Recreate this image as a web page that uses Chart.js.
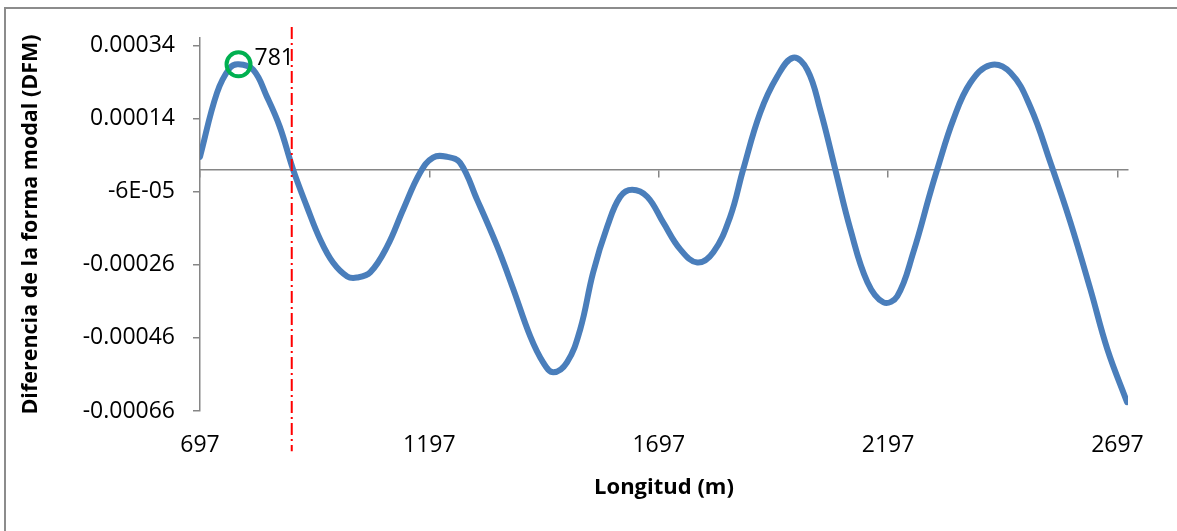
<!DOCTYPE html>
<html>
<head>
<meta charset="utf-8">
<script src="https://cdn.jsdelivr.net/npm/chart.js@4.4.1/dist/chart.umd.min.js"></script>
<style>
  html, body { margin: 0; padding: 0; background: #fff; overflow: hidden; }
  #frame { position: absolute; left: 4px; top: 7px; width: 2000px; height: 2000px;
           border-left: 2px solid #8c8c8c; border-top: 2px solid #8c8c8c; }
  #wrap { position: absolute; left: 0; top: 0; width: 1177px; height: 531px; }
</style>
</head>
<body>
<div id="frame"></div>
<div id="wrap"><canvas id="dfmChart" width="1177" height="531"></canvas></div>
<script>
// longitud (m) y diferencia de la forma modal
const longitud = [697, 734, 762, 781, 813, 843, 871, 900, 930, 959, 987, 1018, 1039, 1068, 1105, 1140,
  1177, 1205, 1236, 1264, 1301, 1345, 1380, 1417, 1445, 1467, 1497, 1526, 1554, 1585, 1613, 1639,
  1672, 1707, 1744, 1781, 1816, 1853, 1881, 1918, 1955, 1990, 2021, 2049, 2082, 2115, 2152, 2187,
  2217, 2252, 2289, 2304, 2339, 2376, 2420, 2464, 2507, 2551, 2594, 2638, 2675, 2718];
const dfm = [3.5e-5, 2.10e-4, 2.78e-4, 2.88e-4, 2.73e-4, 1.99e-4, 1.17e-4, 0, -1.01e-4, -1.91e-4, -2.54e-4, -2.92e-4, -2.95e-4, -2.81e-4, -2.10e-4, -1.09e-4,
  -0.08e-4, 0.33e-4, 0.35e-4, 0.19e-4, -0.82e-4, -2.10e-4, -3.27e-4, -4.56e-4, -5.27e-4, -5.54e-4, -5.27e-4, -4.36e-4, -2.81e-4, -1.55e-4, -0.74e-4, -0.55e-4,
  -0.74e-4, -1.45e-4, -2.18e-4, -2.54e-4, -2.26e-4, -1.28e-4, 0, 1.55e-4, 2.54e-4, 3.06e-4, 2.73e-4, 1.64e-4, 0, -1.64e-4, -3.08e-4, -3.63e-4,
  -3.46e-4, -2.26e-4, -0.63e-4, 0, 1.36e-4, 2.37e-4, 2.86e-4, 2.65e-4, 1.72e-4, 0.19e-4, -1.42e-4, -3.27e-4, -4.91e-4, -6.36e-4];

const xTicks = [697, 1197, 1697, 2197, 2697];
const xTickLabels = ['697', '1197', '1697', '2197', '2697'];
const yTicks = [-0.00066, -0.00046, -0.00026, -0.00006, 0.00014, 0.00034];
const yTickLabels = ['-0.00066', '-0.00046', '-0.00026', '-6E-05', '0.00014', '0.00034'];

// marcadores
const peakX = 781, peakY = 2.88e-4, peakLabel = '781';
const cutX = 897, cutTop = 0.00039, cutBottom = -0.00077;

const axisColor = '#868686';
const tickFont = { family: 'Open Sans', size: 23 };

const peakLabelPlugin = {
  id: 'peakLabel',
  afterDatasetsDraw(chart) {
    const ctx = chart.ctx;
    const px = chart.scales.x.getPixelForValue(peakX);
    const py = chart.scales.y.getPixelForValue(peakY);
    ctx.save();
    ctx.font = '23px "Open Sans"';
    ctx.fillStyle = '#000';
    ctx.textAlign = 'left';
    ctx.textBaseline = 'middle';
    ctx.fillText(peakLabel, px + 16, py - 6);
    ctx.restore();
  }
};

new Chart(document.getElementById('dfmChart'), {
  type: 'line',
  data: {
    datasets: [
      { // circulo verde
        data: [{ x: peakX, y: peakY }],
        showLine: false, pointRadius: 12, pointHoverRadius: 12, pointBorderWidth: 4,
        pointBorderColor: '#00b050', pointBackgroundColor: 'rgba(0,0,0,0)',
        xAxisID: 'x', yAxisID: 'y', order: 0
      },
      { // linea roja punto-raya
        data: [{ x: cutX, y: cutTop }, { x: cutX, y: cutBottom }],
        borderColor: '#ff0000', borderWidth: 2, borderDash: [12, 4, 2, 4],
        pointRadius: 0, clip: false, xAxisID: 'x', yAxisID: 'y', order: 1
      },
      {
        data: longitud.map((x, i) => ({ x: x, y: dfm[i] })),
        borderColor: '#4a7ebb', borderWidth: 6, pointRadius: 0, tension: 0.4,
        borderCapStyle: 'round', borderJoinStyle: 'round',
        xAxisID: 'x', yAxisID: 'y', order: 2
      }
    ]
  },
  options: {
    responsive: false, animation: false,
    layout: { padding: { top: 38, right: 49, left: 0, bottom: 0 } },
    plugins: { legend: { display: false }, tooltip: { enabled: false } },
    scales: {
      x: {
        type: 'linear', position: 'bottom', min: 697, max: 2720,
        afterBuildTicks: s => { s.ticks = xTicks.map(v => ({ value: v })); },
        afterFit: s => { s.height = 120; },
        border: { display: false },
        grid: { display: false, drawTicks: false },
        ticks: { color: '#000', font: tickFont, padding: 21, maxRotation: 0,
                 callback: (v, i) => xTickLabels[i] },
        title: { display: true, text: 'Longitud (m)', color: '#000',
                 font: { family: 'Open Sans', size: 22, weight: 'bold' },
                 padding: { top: 0, bottom: 30 } }
      },
      x0: {
        type: 'linear', position: { y: 0 }, min: 697, max: 2720,
        afterBuildTicks: s => { s.ticks = xTicks.map(v => ({ value: v })); },
        border: { display: true, color: axisColor, width: 1.5 },
        grid: { drawOnChartArea: false, drawTicks: true, tickLength: 7, color: axisColor, lineWidth: 1.5 },
        ticks: { display: false }
      },
      y: {
        type: 'linear', position: 'left', min: -0.00066, max: 0.00036,
        afterBuildTicks: s => { s.ticks = yTicks.map(v => ({ value: v })); },
        afterFit: s => { s.width = 200; },
        border: { display: true, color: axisColor, width: 1.5 },
        grid: { drawOnChartArea: false, drawTicks: true, tickLength: 7, color: axisColor, lineWidth: 1.5 },
        ticks: { color: '#000', font: tickFont, padding: 18,
                 callback: (v, i) => yTickLabels[i] },
        title: { display: true, text: 'Diferencia de la forma modal (DFM)', color: '#000',
                 font: { family: 'Open Sans', size: 21.5, weight: 'bold' },
                 padding: { top: 18, bottom: 0 } }
      }
    }
  },
  plugins: [peakLabelPlugin]
});
</script>
</body>
</html>
